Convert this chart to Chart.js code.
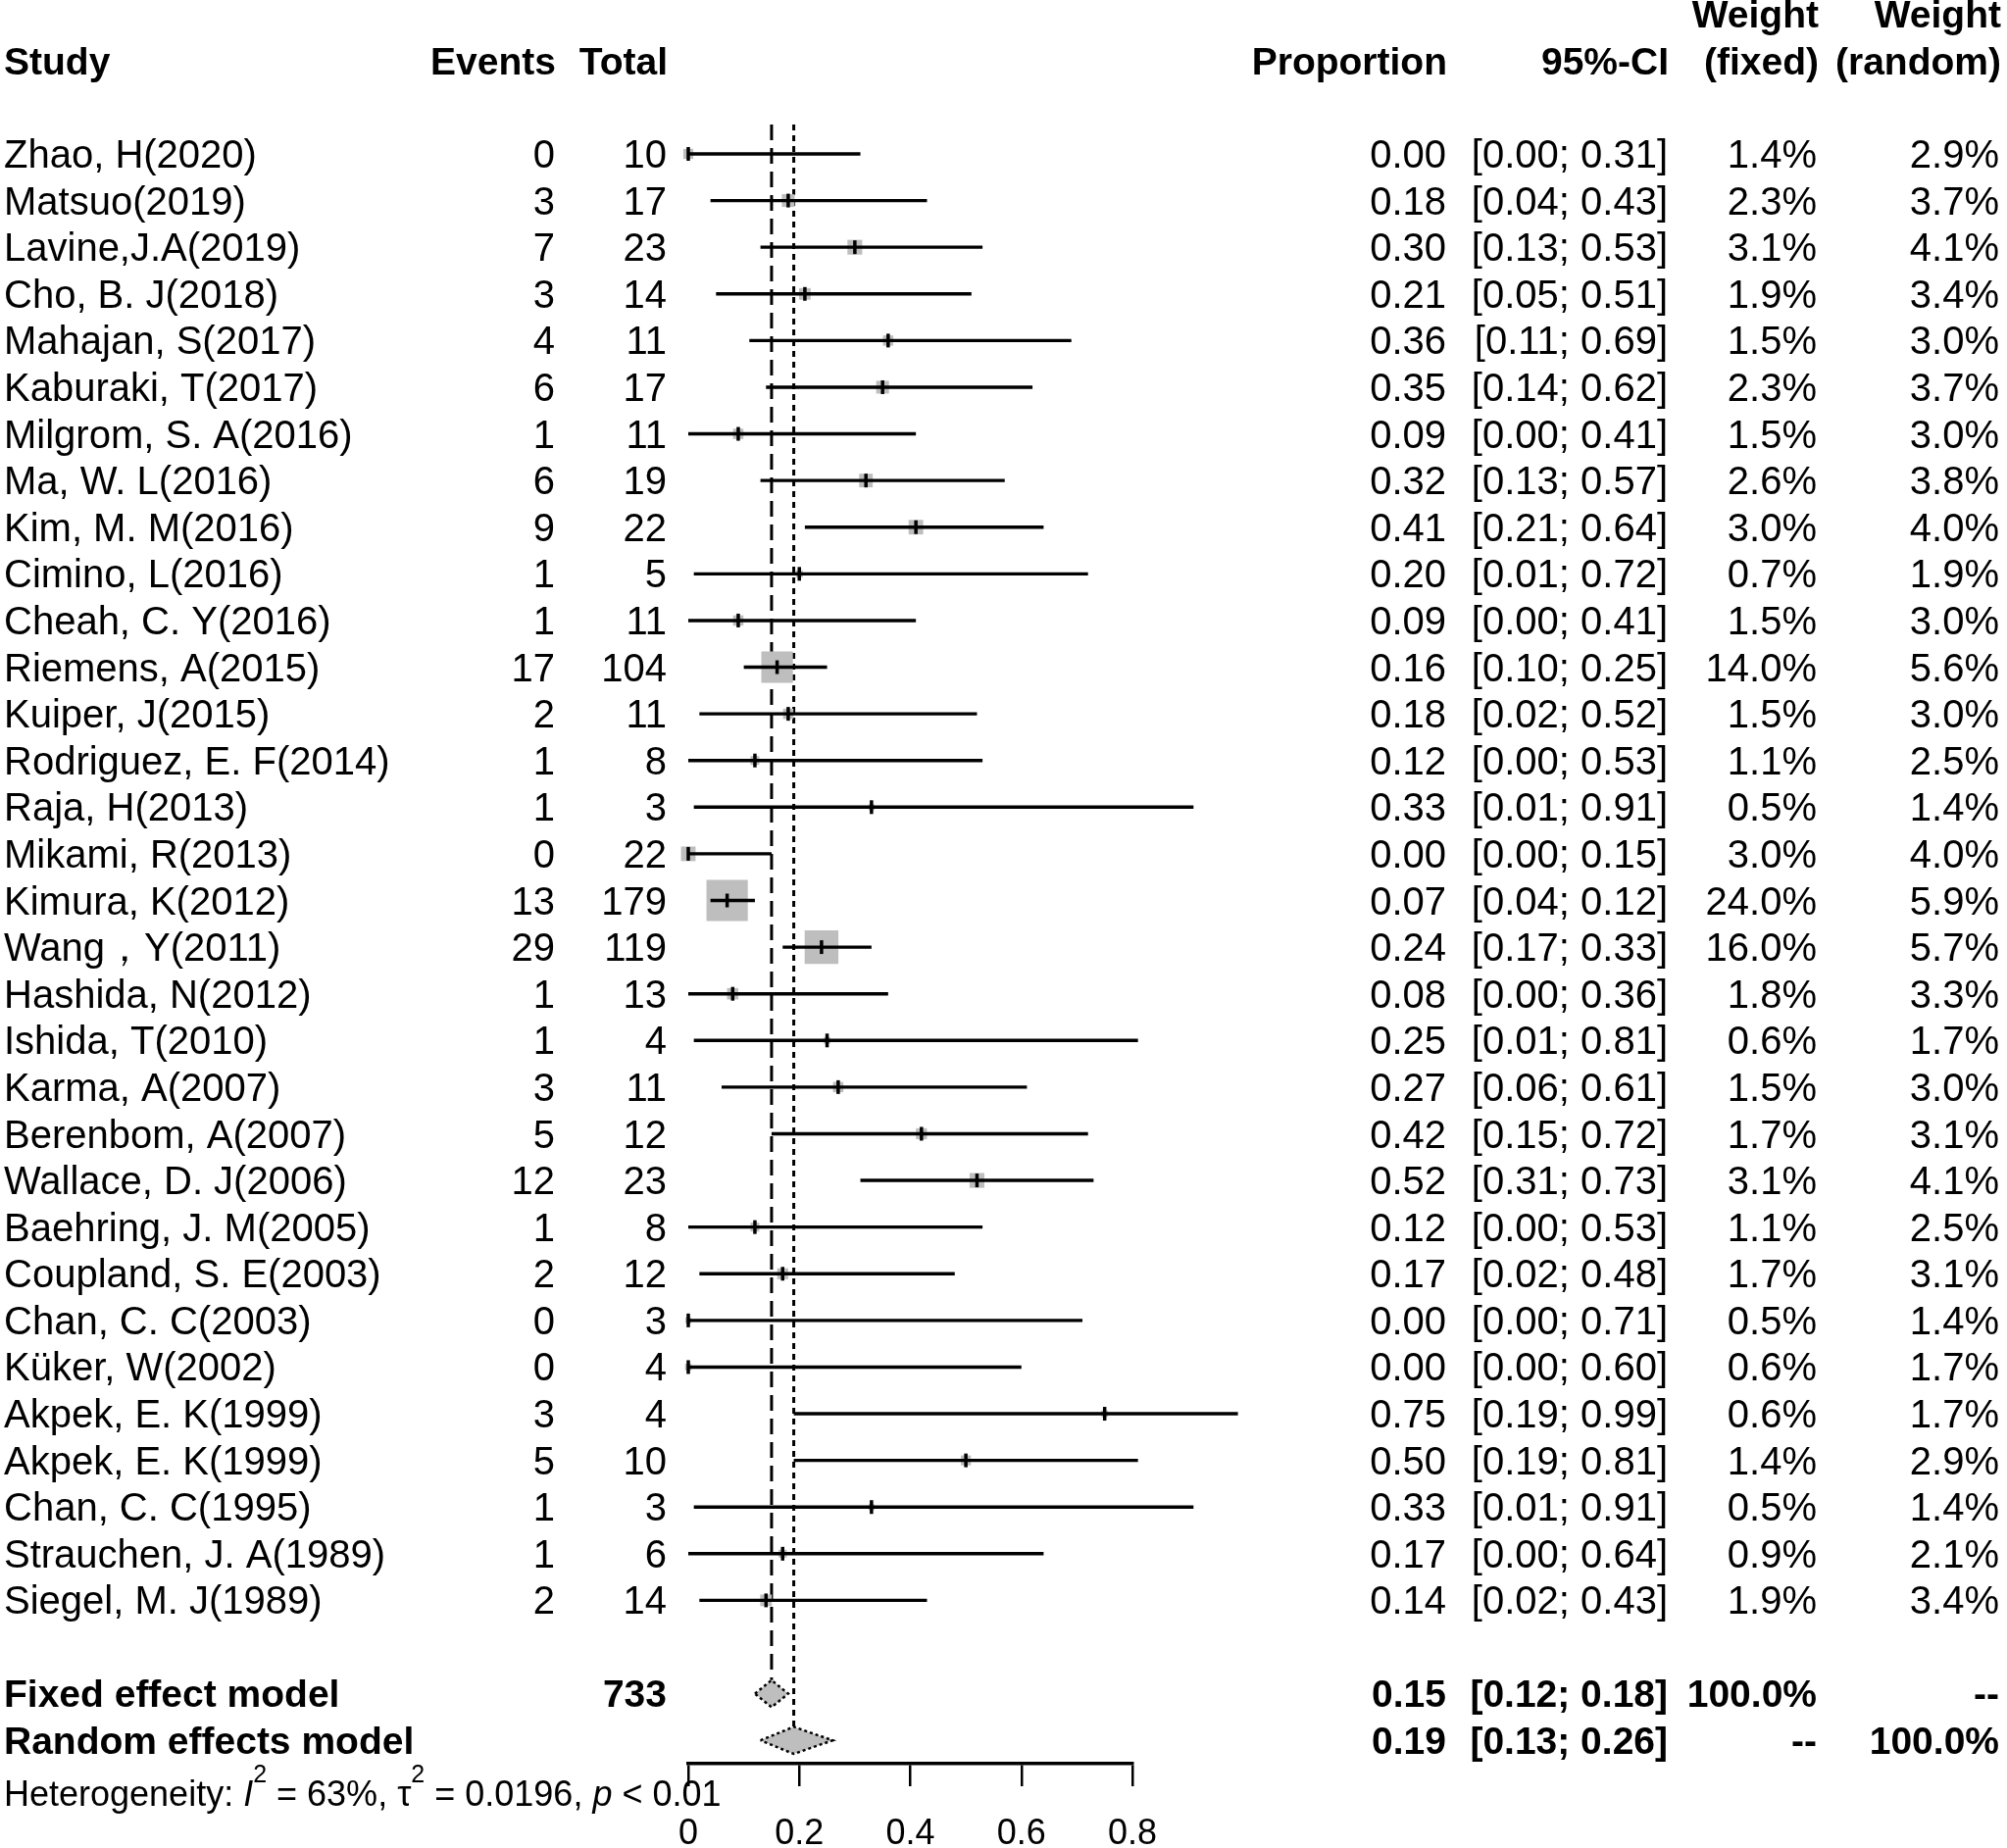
<!DOCTYPE html>
<html lang="en">
<head>
  <meta charset="UTF-8" />
  <title>Forest plot - proportion</title>
  <script src="https://cdn.jsdelivr.net/npm/chart.js"></script>
  <style>
    html, body { margin: 0; padding: 0; background: #fff; }
    canvas { display: block; }
  </style>
</head>
<body>
  <canvas id="forest" width="2047" height="1885"></canvas>
  <script>
    // study data
    const studies = ['Zhao, H(2020)', 'Matsuo(2019)', 'Lavine,J.A(2019)', 'Cho, B. J(2018)', 'Mahajan, S(2017)',
      'Kaburaki, T(2017)', 'Milgrom, S. A(2016)', 'Ma, W. L(2016)', 'Kim, M. M(2016)', 'Cimino, L(2016)',
      'Cheah, C. Y(2016)', 'Riemens, A(2015)', 'Kuiper, J(2015)', 'Rodriguez, E. F(2014)', 'Raja, H(2013)',
      'Mikami, R(2013)', 'Kimura, K(2012)', 'Wang，Y(2011)', 'Hashida, N(2012)', 'Ishida, T(2010)',
      'Karma, A(2007)', 'Berenbom, A(2007)', 'Wallace, D. J(2006)', 'Baehring, J. M(2005)', 'Coupland, S. E(2003)',
      'Chan, C. C(2003)', 'Küker, W(2002)', 'Akpek, E. K(1999)', 'Akpek, E. K(1999)', 'Chan, C. C(1995)',
      'Strauchen, J. A(1989)', 'Siegel, M. J(1989)'];
    const events = [0, 3, 7, 3, 4, 6, 1, 6, 9, 1, 1, 17, 2, 1, 1, 0, 13, 29, 1, 1, 3, 5, 12, 1, 2, 0, 0, 3, 5, 1, 1, 2];
    const totals = [10, 17, 23, 14, 11, 17, 11, 19, 22, 5, 11, 104, 11, 8, 3, 22, 179, 119, 13, 4, 11, 12, 23, 8, 12, 3, 4, 4, 10, 3, 6, 14];
    const proportion = [0.00, 0.18, 0.30, 0.21, 0.36, 0.35, 0.09, 0.32, 0.41, 0.20, 0.09, 0.16, 0.18, 0.12, 0.33, 0.00,
      0.07, 0.24, 0.08, 0.25, 0.27, 0.42, 0.52, 0.12, 0.17, 0.00, 0.00, 0.75, 0.50, 0.33, 0.17, 0.14];
    const ciLower = [0.00, 0.04, 0.13, 0.05, 0.11, 0.14, 0.00, 0.13, 0.21, 0.01, 0.00, 0.10, 0.02, 0.00, 0.01, 0.00,
      0.04, 0.17, 0.00, 0.01, 0.06, 0.15, 0.31, 0.00, 0.02, 0.00, 0.00, 0.19, 0.19, 0.01, 0.00, 0.02];
    const ciUpper = [0.31, 0.43, 0.53, 0.51, 0.69, 0.62, 0.41, 0.57, 0.64, 0.72, 0.41, 0.25, 0.52, 0.53, 0.91, 0.15,
      0.12, 0.33, 0.36, 0.81, 0.61, 0.72, 0.73, 0.53, 0.48, 0.71, 0.60, 0.99, 0.81, 0.91, 0.64, 0.43];
    const weightFixed = [1.4, 2.3, 3.1, 1.9, 1.5, 2.3, 1.5, 2.6, 3.0, 0.7, 1.5, 14.0, 1.5, 1.1, 0.5, 3.0,
      24.0, 16.0, 1.8, 0.6, 1.5, 1.7, 3.1, 1.1, 1.7, 0.5, 0.6, 0.6, 1.4, 0.5, 0.9, 1.9];
    const weightRandom = [2.9, 3.7, 4.1, 3.4, 3.0, 3.7, 3.0, 3.8, 4.0, 1.9, 3.0, 5.6, 3.0, 2.5, 1.4, 4.0,
      5.9, 5.7, 3.3, 1.7, 3.0, 3.1, 4.1, 2.5, 3.1, 1.4, 1.7, 1.7, 2.9, 1.4, 2.1, 3.4];

    // pooled estimates
    const pooledLabels = ['Fixed effect model', 'Random effects model'];
    const pooledEst = [0.15, 0.19];
    const pooledLower = [0.12, 0.13];
    const pooledUpper = [0.18, 0.26];
    const pooledTotal = 733;

    const xTicks = [0, 0.2, 0.4, 0.6, 0.8];
    const xTickLabels = ['0', '0.2', '0.4', '0.6', '0.8'];

    const n = studies.length;
    const fixedRow = n + 1;
    const randomRow = n + 2;
    const FONT = "'Liberation Sans', Arial, sans-serif";
    const GREY = '#bebebe';

    const datasets = [];

    // point estimate marks
    datasets.push({
      type: 'scatter',
      data: proportion.map((p, i) => ({ x: p, y: i })),
      pointStyle: 'line',
      rotation: 90,
      pointRadius: 7,
      borderColor: '#000',
      borderWidth: 3.5,
      clip: false,
      order: 1
    });

    // confidence intervals
    studies.forEach((s, i) => {
      datasets.push({
        type: 'line',
        data: [{ x: ciLower[i], y: i }, { x: ciUpper[i], y: i }],
        borderColor: '#000',
        borderWidth: 3.4,
        pointRadius: 0,
        clip: false,
        order: 2
      });
    });

    // weight squares
    datasets.push({
      type: 'scatter',
      data: proportion.map((p, i) => ({ x: p, y: i })),
      pointStyle: 'rect',
      pointRadius: weightFixed.map(w => 8.6 * Math.sqrt(w) / Math.SQRT2),
      backgroundColor: GREY,
      borderWidth: 0,
      clip: false,
      order: 3
    });

    // diamonds
    [fixedRow, randomRow].forEach((row, k) => {
      datasets.push({
        type: 'line',
        data: [
          { x: pooledLower[k], y: row },
          { x: pooledEst[k], y: row - 0.29 },
          { x: pooledUpper[k], y: row },
          { x: pooledEst[k], y: row + 0.29 },
          { x: pooledLower[k], y: row }
        ],
        borderColor: '#000',
        borderWidth: 2.5,
        borderDash: [3, 3],
        backgroundColor: GREY,
        fill: 'shape',
        pointRadius: 0,
        clip: false,
        order: 1
      });
    });

    // vertical lines for the pooled estimates
    datasets.push({
      type: 'line',
      data: [{ x: pooledEst[0], y: -0.63 }, { x: pooledEst[0], y: fixedRow - 0.29 }],
      borderColor: '#000', borderWidth: 3, borderDash: [16, 8], pointRadius: 0, order: 4
    });
    datasets.push({
      type: 'line',
      data: [{ x: pooledEst[1], y: -0.63 }, { x: pooledEst[1], y: randomRow - 0.29 }],
      borderColor: '#000', borderWidth: 3, borderDash: [6, 5], pointRadius: 0, order: 4
    });

    const tablePlugin = {
      id: 'forestTable',
      afterDraw(chart) {
        const ctx = chart.ctx;
        const ys = chart.scales.y;
        ctx.save();
        ctx.fillStyle = '#000';
        ctx.textBaseline = 'middle';
        const txt = (s, x, row, align, bold) => {
          ctx.font = (bold ? 'bold 39px ' : '40px ') + FONT;
          ctx.textAlign = align;
          ctx.fillText(s, x, ys.getPixelForValue(row) + 3);
        };
        const ci = (lo, hi) => '[' + lo.toFixed(2) + '; ' + hi.toFixed(2) + ']';

        // header
        txt('Study', 4, -2, 'left', true);
        txt('Events', 567, -2, 'right', true);
        txt('Total', 681, -2, 'right', true);
        txt('Proportion', 1476, -2, 'right', true);
        txt('95%-CI', 1702, -2, 'right', true);
        txt('Weight', 1855, -3, 'right', true);
        txt('(fixed)', 1855, -2, 'right', true);
        txt('Weight', 2041, -3, 'right', true);
        txt('(random)', 2041, -2, 'right', true);

        studies.forEach((s, i) => {
          txt(s, 4, i, 'left');
          txt(String(events[i]), 566, i, 'right');
          txt(String(totals[i]), 680, i, 'right');
          txt(proportion[i].toFixed(2), 1475, i, 'right');
          txt(ci(ciLower[i], ciUpper[i]), 1701, i, 'right');
          txt(weightFixed[i].toFixed(1) + '%', 1853, i, 'right');
          txt(weightRandom[i].toFixed(1) + '%', 2039, i, 'right');
        });

        txt(pooledLabels[0], 4, fixedRow, 'left', true);
        txt(String(pooledTotal), 680, fixedRow, 'right', true);
        txt(pooledEst[0].toFixed(2), 1475, fixedRow, 'right', true);
        txt(ci(pooledLower[0], pooledUpper[0]), 1701, fixedRow, 'right', true);
        txt('100.0%', 1853, fixedRow, 'right', true);
        txt('--', 2039, fixedRow, 'right', true);

        txt(pooledLabels[1], 4, randomRow, 'left', true);
        txt(pooledEst[1].toFixed(2), 1475, randomRow, 'right', true);
        txt(ci(pooledLower[1], pooledUpper[1]), 1701, randomRow, 'right', true);
        txt('--', 1853, randomRow, 'right', true);
        txt('100.0%', 2039, randomRow, 'right', true);

        // heterogeneity line with superscripts
        const base = ys.getPixelForValue(randomRow) + 67;
        let x = 4;
        ctx.textAlign = 'left';
        ctx.textBaseline = 'alphabetic';
        const part = (s, style, dy) => {
          ctx.font = style + FONT;
          ctx.fillText(s, x, base + (dy || 0));
          x += ctx.measureText(s).width;
        };
        part('Heterogeneity: ', '36px ');
        part('I', 'italic 36px ');
        part('2', '25px ', -24);
        part(' = 63%, ', '36px ');
        part('τ', '36px ');
        part('2', '25px ', -24);
        part(' = 0.0196, ', '36px ');
        part('p', 'italic 36px ');
        part(' < 0.01', '36px ');
        ctx.restore();
      }
    };

    new Chart(document.getElementById('forest'), {
      type: 'scatter',
      data: { datasets },
      options: {
        responsive: false,
        animation: false,
        devicePixelRatio: 1,
        layout: { padding: { top: 127, left: 702, right: 892, bottom: 0 } },
        plugins: { legend: { display: false }, tooltip: { enabled: false } },
        scales: {
          x: {
            type: 'linear',
            position: 'bottom',
            min: 0,
            max: 0.8,
            afterBuildTicks: (scale) => { scale.ticks = xTicks.map(v => ({ value: v })); },
            afterFit: (scale) => { scale.height = 86; },
            grid: { display: true, drawOnChartArea: false, drawTicks: true, tickLength: 23, color: '#000', lineWidth: 2.5 },
            border: { display: true, color: '#000', width: 3.5 },
            ticks: {
              color: '#000',
              padding: 27,
              font: { family: FONT, size: 36 },
              callback: (v, i) => xTickLabels[i]
            }
          },
          y: {
            type: 'linear',
            display: false,
            reverse: true,
            min: -0.63,
            max: 34.5
          }
        }
      },
      plugins: [tablePlugin]
    });
  </script>
</body>
</html>
